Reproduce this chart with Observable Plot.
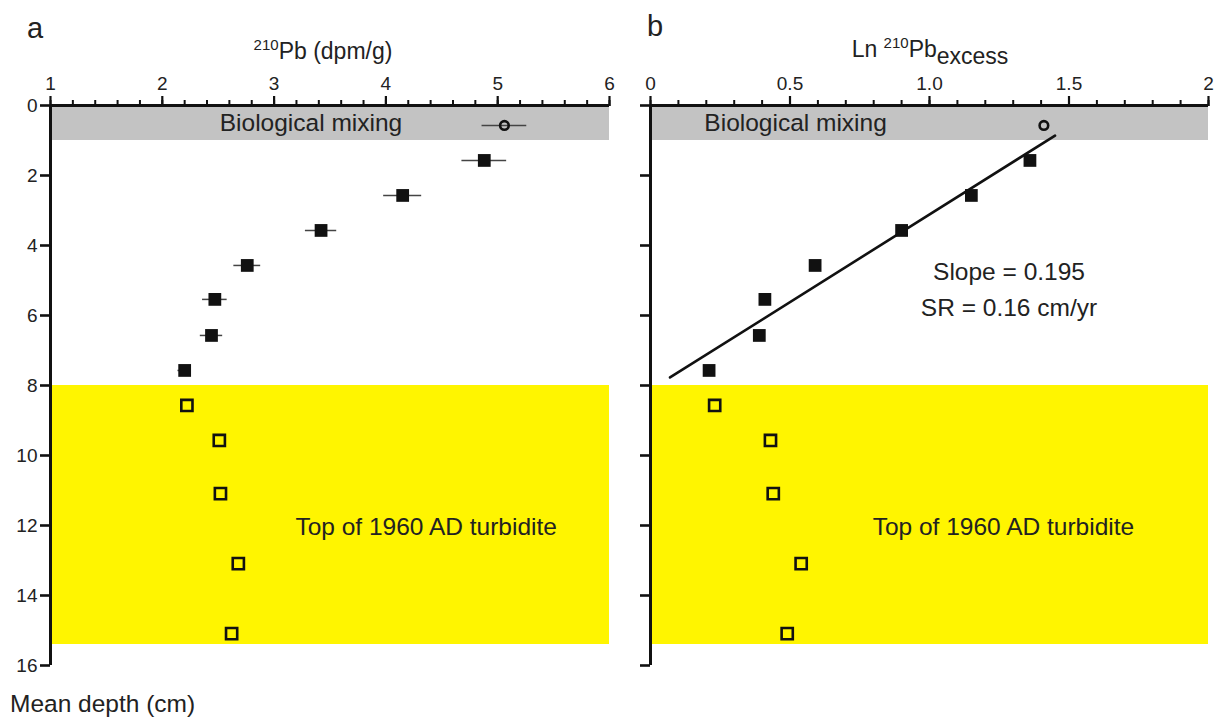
<!DOCTYPE html>
<html>
<head>
<meta charset="utf-8">
<script src="https://cdn.jsdelivr.net/npm/d3@7"></script>
<script src="https://cdn.jsdelivr.net/npm/@observablehq/plot@0.6"></script>
<style>
  html, body { margin: 0; padding: 0; background: #fff; }
  #wrap { position: relative; width: 1219px; height: 722px; overflow: hidden; font-family: "Liberation Sans", Arial, Helvetica, sans-serif; color: #222; }
  .abs { position: absolute; white-space: nowrap; line-height: 1; }
  .plot-a, .plot-b { position: absolute; top: 0; }
  sup { font-size: 15px; vertical-align: 0; position: relative; top: -9px; }
  sub { font-size: 23px; vertical-align: 0; position: relative; top: 7px; }
</style>
</head>
<body>
<div id="wrap">
  <div class="abs" style="left:27px; top:14px; font-size:29px;">a</div>
  <div class="abs" style="left:647px; top:12px; font-size:29px;">b</div>
  <div class="abs" id="titleA" style="left:323px; top:40px; font-size:23px; transform:translateX(-50%);"><sup>210</sup>Pb (dpm/g)</div>
  <div class="abs" id="titleB" style="left:930px; top:38px; font-size:23px; transform:translateX(-50%);">Ln <sup>210</sup>Pb<sub>excess</sub></div>
  <div class="abs" style="left:10px; top:692px; font-size:24.5px;">Mean depth (cm)</div>
</div>
<script>
// Biological mixing zone sample (open circle)
const mixDepth = [0.57];
const mixPb = [5.06];
const mixPbErr = [0.20];
const mixLn = [1.41];

// Filled squares (used in regression)
const depth = [1.57, 2.57, 3.57, 4.57, 5.54, 6.57, 7.57];
const pb = [4.88, 4.15, 3.42, 2.76, 2.47, 2.44, 2.20];
const pbErr = [0.20, 0.17, 0.14, 0.12, 0.11, 0.10, 0.06];
const lnPb = [1.36, 1.15, 0.90, 0.59, 0.41, 0.39, 0.21];

// Open squares (turbidite)
const turbDepth = [8.57, 9.57, 11.09, 13.09, 15.09];
const turbPb = [2.22, 2.51, 2.52, 2.68, 2.62];
const turbLn = [0.23, 0.43, 0.44, 0.54, 0.49];

// Regression line endpoints (Ln vs depth)
const fitLn = [0.07, 1.45];
const fitDepth = [7.77, 0.86];

// Zones
const mixZone = [0, 1];
const turbZone = [8, 15.4];

// Ticks
const yTicks = [0, 2, 4, 6, 8, 10, 12, 14, 16];
const xTicksA = [1, 2, 3, 4, 5, 6];
const xMinorA = d3.range(1, 6.0001, 0.2);
const xTicksB = [0, 0.5, 1, 1.5, 2];
const xTickLabelsB = ["0", "0.5", "1.0", "1.5", "2"];
const xMinorB = d3.range(0, 2.0001, 0.1);

const FONT = '"Liberation Sans", Arial, Helvetica, sans-serif';
const TXT = "#222";
const GRAY = "#c3c3c3";
const YELLOW = "#fff500";
const FS = 24.5;

const filled = depth.map((d, i) => ({depth: d, pb: pb[i], err: pbErr[i], ln: lnPb[i]}));
const mix = mixDepth.map((d, i) => ({depth: d, pb: mixPb[i], err: mixPbErr[i], ln: mixLn[i]}));
const turb = turbDepth.map((d, i) => ({depth: d, pb: turbPb[i], ln: turbLn[i]}));
const fit = fitLn.map((v, i) => ({ln: v, depth: fitDepth[i]}));

function panel({width, marginLeft, marginRight, xDomain, xTicks, xLabels, xMinor, xField, showYLabels, errors, extra}) {
  const x0 = xDomain[0], x1 = xDomain[1];
  const marks = [
    Plot.rectY([0], {x1: x0, x2: x1, y1: mixZone[0], y2: mixZone[1], fill: GRAY}),
    Plot.rectY([0], {x1: x0, x2: x1, y1: turbZone[0], y2: turbZone[1], fill: YELLOW}),
    Plot.axisX({anchor: "top", ticks: xMinor, tickSize: 6, strokeWidth: 2, text: null, label: null, stroke: "#111"}),
    Plot.axisX({anchor: "top", ticks: xTicks, tickSize: 10, strokeWidth: 2.2, tickPadding: 6, fontSize: 19, label: null,
      tickFormat: (d) => xLabels[xTicks.indexOf(d)], stroke: "#111", fill: TXT}),
    Plot.axisY({anchor: "left", ticks: yTicks, tickSize: 10, strokeWidth: 2.6, tickPadding: 3, fontSize: 19, label: null,
      tickFormat: showYLabels ? (d) => String(d) : () => "", stroke: "#111", fill: TXT}),
    Plot.ruleY([0], {x1: x0, x2: x1, stroke: "#111", strokeWidth: 3}),
    Plot.ruleX([x0], {y1: 0, y2: 16, stroke: "#111", strokeWidth: 3}),
  ];
  if (errors) {
    marks.push(Plot.ruleY(filled.concat(mix), {y: "depth", x1: (d) => d.pb - d.err, x2: (d) => d.pb + d.err, stroke: "#444", strokeWidth: 1.5}));
  }
  marks.push(
    ...extra,
    Plot.dot(mix, {x: xField, y: "depth", r: 4.3, stroke: "#111", strokeWidth: 2.6, fill: "none"}),
    Plot.dot(filled, {x: xField, y: "depth", symbol: "square", r: 7.2, fill: "#111", stroke: "none"}),
    Plot.dot(turb, {x: xField, y: "depth", symbol: "square", r: 6.3, fill: "none", stroke: "#111", strokeWidth: 2.6})
  );
  return Plot.plot({
    width, height: 680,
    marginTop: 105, marginBottom: 15, marginLeft, marginRight,
    style: {fontFamily: FONT, background: "transparent", overflow: "visible"},
    x: {domain: xDomain, axis: null, label: null},
    y: {domain: [0, 16], reverse: true, axis: null, label: null},
    marks
  });
}

const plotA = panel({
  width: 620, marginLeft: 50, marginRight: 11,
  xDomain: [1, 6], xTicks: xTicksA, xLabels: xTicksA.map(String), xMinor: xMinorA,
  xField: "pb", showYLabels: true, errors: true,
  extra: [
    Plot.text(["Biological mixing"], {x: 3.33, y: 0.5, text: (d) => d, fontSize: FS, fill: TXT}),
    Plot.text(["Top of 1960 AD turbidite"], {x: 4.36, y: 12.05, text: (d) => d, fontSize: FS, fill: TXT})
  ]
});
plotA.classList.add("plot-a");
plotA.style.left = "0px";

const plotB = panel({
  width: 609, marginLeft: 40, marginRight: 11,
  xDomain: [0, 2], xTicks: xTicksB, xLabels: xTickLabelsB, xMinor: xMinorB,
  xField: "ln", showYLabels: false, errors: false,
  extra: [
    Plot.line(fit, {x: "ln", y: "depth", stroke: "#111", strokeWidth: 2.6}),
    Plot.text(["Biological mixing"], {x: 0.52, y: 0.5, text: (d) => d, fontSize: FS, fill: TXT}),
    Plot.text(["Top of 1960 AD turbidite"], {x: 1.265, y: 12.05, text: (d) => d, fontSize: FS, fill: TXT}),
    Plot.text(["Slope = 0.195"], {x: 1.285, y: 4.75, text: (d) => d, fontSize: FS, fill: TXT}),
    Plot.text(["SR = 0.16 cm/yr"], {x: 1.285, y: 5.78, text: (d) => d, fontSize: FS, fill: TXT})
  ]
});
plotB.classList.add("plot-b");
plotB.style.left = "610px";

const wrap = document.getElementById("wrap");
wrap.insertBefore(plotB, wrap.firstChild);
wrap.insertBefore(plotA, wrap.firstChild);
</script>
</body>
</html>
